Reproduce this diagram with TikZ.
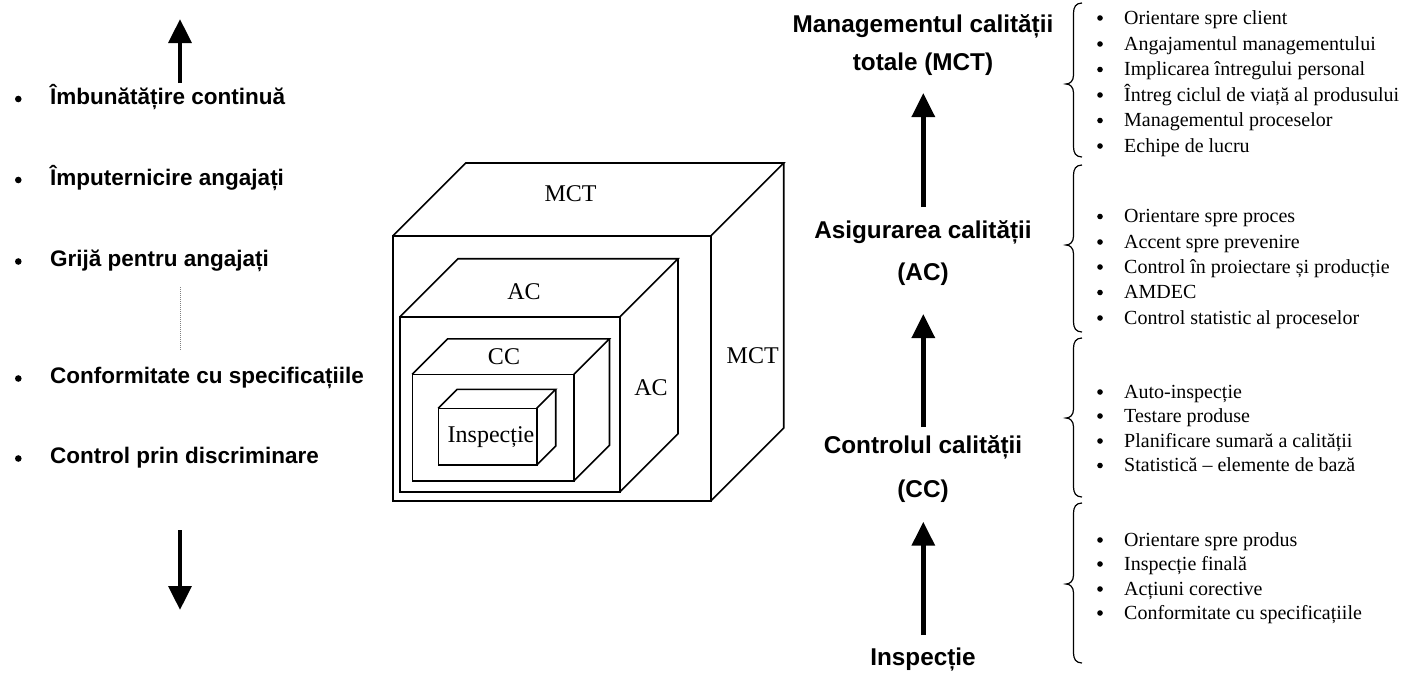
\documentclass[tikz,border=0pt]{standalone}
\usepackage{fontspec}
\setmainfont{Liberation Serif}
\setsansfont{Liberation Sans}
\usetikzlibrary{arrows.meta,calc}

% box with front face (#1,#2)-(#3,#4) and depth offset #5
\newcommand{\drawbox}[5]{%
  \draw[boxline] (#1,#2) rectangle (#3,#4);
  \draw[boxline] (#1,#2) -- ++(#5,-#5) -- ($(#3,#2)+(#5,-#5)$) -- (#3,#2);
  \draw[boxline] ($(#3,#2)+(#5,-#5)$) -- ($(#3,#4)+(#5,-#5)$) -- (#3,#4);
}

% curly brace opening to the right: top, tip, bottom
\newcommand{\sidebrace}[3]{%
  \draw[braceline] (1082,#1) .. controls (1076,#1) and (1073.5,#1+4) .. (1073.5,#1+10)
    -- (1073.5,#2-9) .. controls (1073.5,#2-3) and (1070,#2) .. (1066,#2)
    .. controls (1070,#2) and (1073.5,#2+3) .. (1073.5,#2+9)
    -- (1073.5,#3-10) .. controls (1073.5,#3-4) and (1076,#3) .. (1082,#3);
}

\begin{document}
\begin{tikzpicture}[x=1pt,y=-1pt,
  boxline/.style={line width=1.6pt, line join=miter},
  braceline/.style={line width=1.2pt},
  bigarrow/.style={line width=4.7pt, -{Triangle[width=22.5pt,length=24pt]}},
  lefttxt/.style={anchor=base west, inner sep=0pt, font=\sffamily\bfseries\fontsize{22.5}{27}\selectfont},
  headtxt/.style={anchor=base, inner sep=0pt, font=\sffamily\bfseries\fontsize{24.3}{29}\selectfont},
  itemtxt/.style={anchor=base west, inner sep=0pt, font=\fontsize{20}{24}\selectfont},
  cubetxt/.style={anchor=base, inner sep=0pt, font=\fontsize{24}{28}\selectfont},
  bigdot/.style={fill=black},
]
\useasboundingbox (0,0) rectangle (1407,675);

% ---- left column: evolution of quality concerns ----
\foreach \t/\y [count=\i] in {{Îmbunătățire continuă}/104, {Împuternicire angajați}/185,
    {Grijă pentru angajați}/266.5, {Conformitate cu specificațiile}/383.5,
    {Control prin discriminare}/463.5} {
  \node[lefttxt] (L\i) at (50,\y) {\t};
  \fill[bigdot] (18.3,\y-5) circle (3.3);
}
\coordinate (upS) at (180,83);
\coordinate (upE) at (180,19);
\draw[bigarrow] (upS) -- (upE);
\coordinate (dnS) at (180,530);
\coordinate (dnE) at (180,610);
\draw[bigarrow] (dnS) -- (dnE);
\coordinate (dotA) at (180,287);
\coordinate (dotB) at (180,350);
\draw[gray, line width=1pt, dash pattern=on 1pt off 1pt] (dotA) -- (dotB);

% ---- nested boxes ----
\drawbox{392.7}{236}{710.7}{501}{73}
\drawbox{400}{316.7}{620}{491.7}{58}
\drawbox{412.3}{374.3}{574}{480.7}{35.5}
\drawbox{438.3}{408.3}{536.7}{465}{19}
\node[cubetxt] (mctT) at (570.5,201.7) {MCT};
\node[cubetxt] (mctR) at (752.7,363.3) {MCT};
\node[cubetxt] (acT) at (524,299) {AC};
\node[cubetxt] (acR) at (651,395) {AC};
\node[cubetxt] (ccT) at (504,364) {CC};
\node[cubetxt] (insB) at (491,442.7) {Inspecție};

% ---- right column: stages ----
\node[headtxt] (mct1) at (923,32) {Managementul calității};
\node[headtxt] (mct2) at (923,70) {totale (MCT)};
\node[headtxt] (ac1) at (923,238) {Asigurarea calității};
\node[headtxt] (ac2) at (923,280) {(AC)};
\node[headtxt] (cc1) at (923,453) {Controlul calității};
\node[headtxt] (cc2) at (923,497) {(CC)};
\node[headtxt] (insp) at (923,665) {Inspecție};

\coordinate (a1s) at (923.3,207);
\coordinate (a1e) at (923.3,93);
\coordinate (a2s) at (923.3,427);
\coordinate (a2e) at (923.3,314);
\coordinate (a3s) at (923.3,635);
\coordinate (a3e) at (923.3,521.7);
\draw[bigarrow] (a1s) -- (a1e);
\draw[bigarrow] (a2s) -- (a2e);
\draw[bigarrow] (a3s) -- (a3e);

% ---- braces and characteristics ----
\sidebrace{3}{84}{157}
\sidebrace{165}{245}{332}
\sidebrace{338}{418}{497}
\sidebrace{503}{584}{663}

\foreach \t/\y [count=\i] in {{Orientare spre client}/24, {Angajamentul managementului}/50,
    {Implicarea întregului personal}/75.5, {Întreg ciclul de viață al produsului}/101,
    {Managementul proceselor}/126.5, {Echipe de lucru}/152,
    {Orientare spre proces}/222.5, {Accent spre prevenire}/248,
    {Control în proiectare și producție}/273, {AMDEC}/298.5,
    {Control statistic al proceselor}/324,
    {Auto-inspecție}/398, {Testare produse}/422,
    {Planificare sumară a calității}/447, {Statistică – elemente de bază}/471.5,
    {Orientare spre produs}/546, {Inspecție finală}/570,
    {Acțiuni corective}/595, {Conformitate cu specificațiile}/619} {
  \node[itemtxt] (R\i) at (1124,\y) {\t};
  \fill[bigdot] (1100,\y-6) circle (2.8);
}
\end{tikzpicture}
\end{document}
